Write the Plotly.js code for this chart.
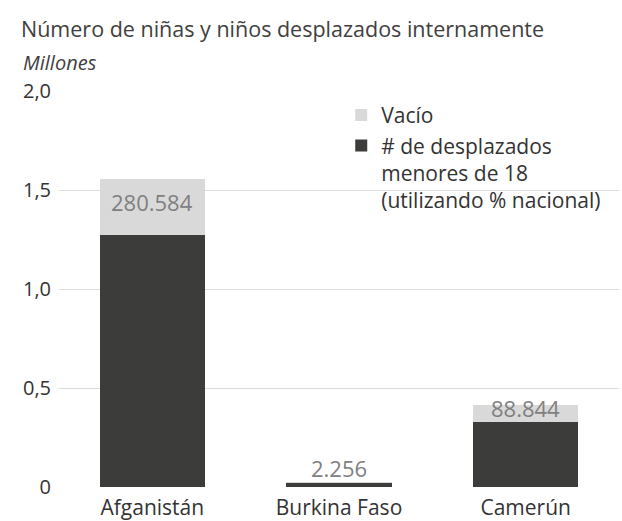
<!DOCTYPE html>
<html>
<head>
<meta charset="utf-8">
<script src="https://cdn.plot.ly/plotly-3.0.1.min.js"></script>
<style>html,body{margin:0;padding:0;background:#fff}#chart{width:622px;height:521px}</style>
</head>
<body>
<div id="chart"></div>
<script>
const categories = ["Afganistán", "Burkina Faso", "Camerún"];
const desplazados = [1.275, 0.022, 0.327];      // millones
const vacio = [0.280584, 0.002256, 0.088844];   // millones
const vacioLabels = ["280.584", "2.256", "88.844"];
const seriesNames = ["# de desplazados<br>menores de 18<br>(utilizando % nacional)", "Vacío"];
const tickVals = [0, 0.5, 1, 1.5, 2];
const tickText = ["0", "0,5", "1,0", "1,5", "2,0"];

const FONT = "Open Sans, Noto Sans, sans-serif";

const traces = [
  {type: "bar", x: categories, y: desplazados, name: seriesNames[0],
   marker: {color: "#3c3c3b"}, width: 0.565, hoverinfo: "x+y"},
  {type: "bar", x: categories, y: vacio, name: seriesNames[1],
   marker: {color: "#d9d9d9"}, width: 0.565, hoverinfo: "x+y"}
];

const annotations = categories.map((c, i) => {
  const small = vacio[i] < 0.01;
  return {
    x: c, xref: "x", yref: "y",
    y: small ? desplazados[i] + vacio[i] : desplazados[i] + vacio[i] / 2,
    yanchor: small ? "bottom" : "middle",
    yshift: small ? -3 : 5,
    text: vacioLabels[i], showarrow: false,
    font: {family: FONT, size: 22, color: "#808080"}
  };
});
annotations.push({
  text: "Número de niñas y niños desplazados internamente",
  xref: "paper", yref: "paper", x: -0.071, y: 1.159, xanchor: "left", yanchor: "middle",
  showarrow: false, font: {family: FONT, size: 21.5, color: "#404040"}
});
annotations.push({
  text: "<i>Millones</i>",
  xref: "paper", yref: "paper", x: -0.068, y: 1.034, xanchor: "left", yanchor: "bottom",
  showarrow: false, font: {family: FONT, size: 20, color: "#404040"}
});

const layout = {
  width: 622, height: 521,
  margin: {l: 59, r: 3, t: 91, b: 34},
  paper_bgcolor: "#fff", plot_bgcolor: "#fff",
  barmode: "stack", bargap: 0.435,
  font: {family: FONT, size: 21, color: "#333"},
  showlegend: true,
  legend: {
    x: 0.504, y: 0.99, xanchor: "left", yanchor: "top",
    traceorder: "reversed", valign: "top",
    font: {family: FONT, size: 21, color: "#333"},
    bgcolor: "rgba(0,0,0,0)", tracegroupgap: 3, itemclick: false
  },
  xaxis: {
    showgrid: false, zeroline: false, showline: false, ticks: "",
    ticklabelstandoff: 6,
    tickfont: {family: FONT, size: 21, color: "#333"}, fixedrange: true
  },
  yaxis: {
    range: [0, 2], tickvals: tickVals, ticktext: tickText,
    showgrid: true, gridcolor: "#dcdcdc", gridwidth: 1,
    zeroline: true, zerolinecolor: "#ffffff", zerolinewidth: 2,
    showline: false, ticks: "", ticklabelstandoff: 7,
    tickfont: {family: FONT, size: 20, color: "#333"}, fixedrange: true
  },
  annotations: annotations
};

Plotly.newPlot("chart", traces, layout, {displayModeBar: false, staticPlot: true});
</script>
</body>
</html>
